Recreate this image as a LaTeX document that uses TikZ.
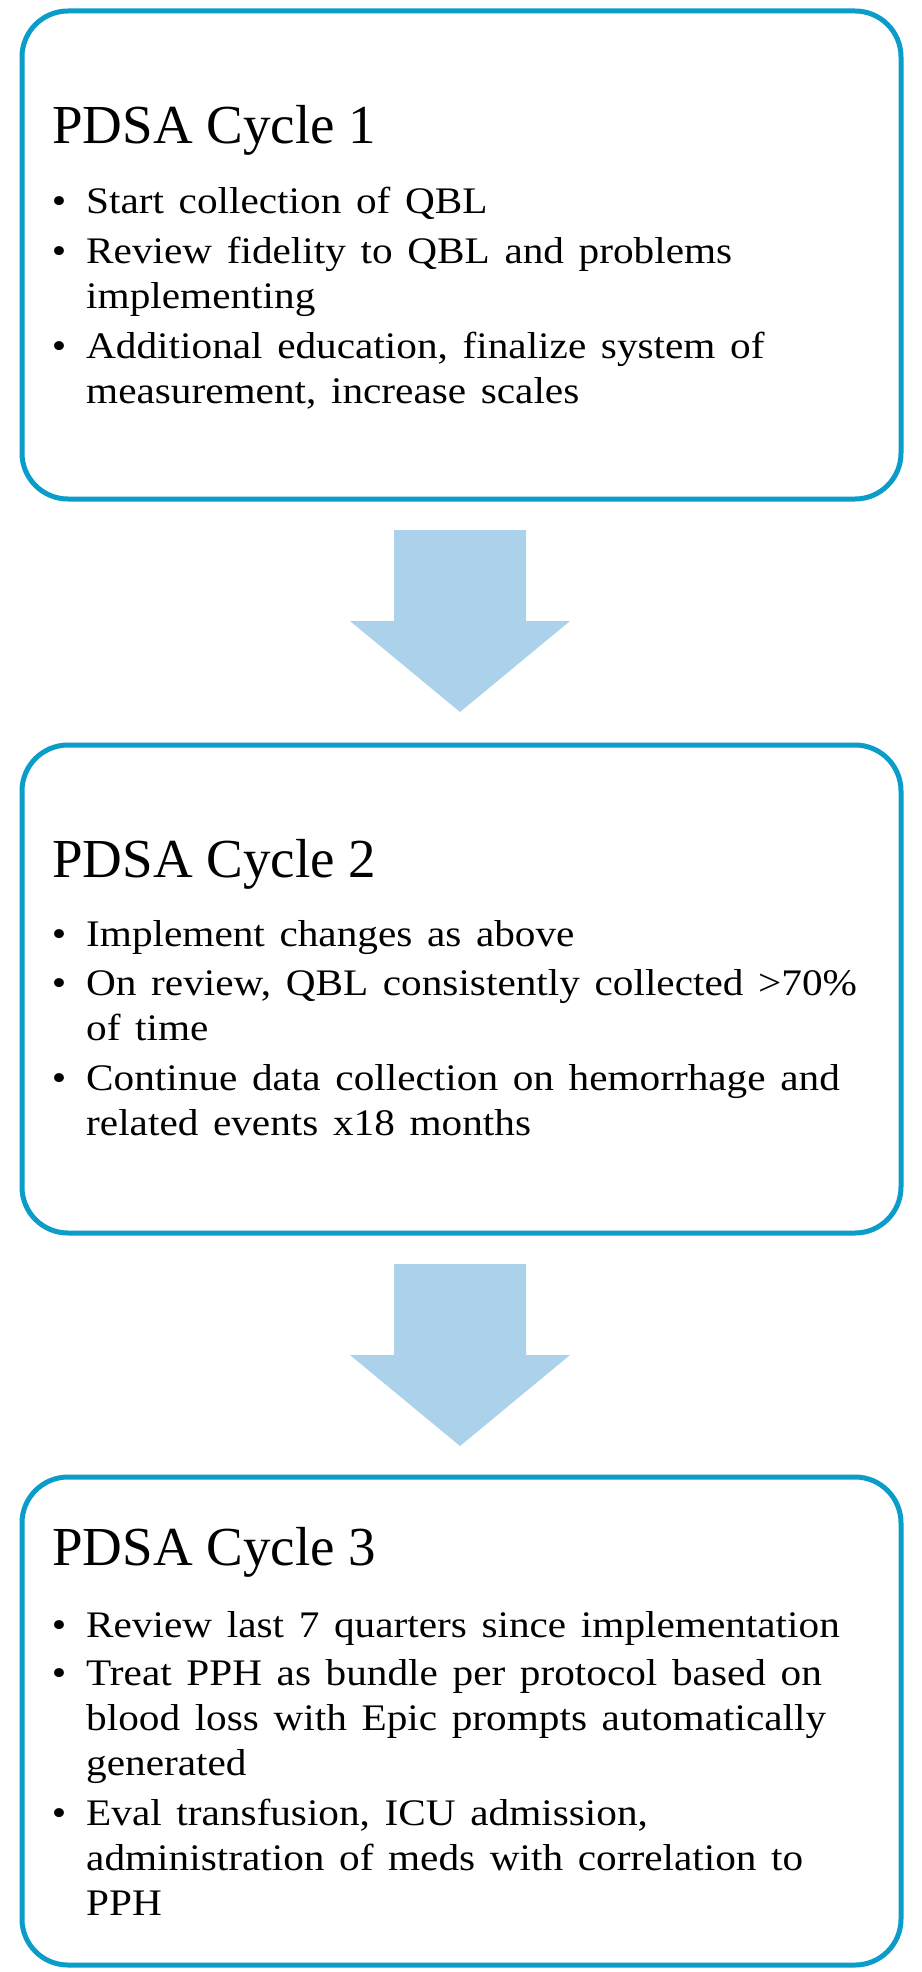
\documentclass[tikz,border=0pt]{standalone}
\usepackage{fontspec}
\usetikzlibrary{calc}
\newfontfamily\bodyfont[FakeStretch=1.1,WordSpace={1.42,0,0}]{Liberation Serif}
\newfontfamily\headfont{Liberation Serif}
\definecolor{boxblue}{RGB}{11,157,202}
\definecolor{arrowblue}{RGB}{171,210,234}
\begin{document}
\begin{tikzpicture}[x=1pt,y=-1pt,
  cyclebox/.style={draw=boxblue, line width=5pt, rounded corners=46pt,
    minimum width=879pt, minimum height=488pt, anchor=north west,
    inner sep=0pt, outer sep=0pt},
  heading/.style={anchor=base west, inner sep=0pt, font=\headfont\fontsize{55}{60}\selectfont},
  bul/.style={anchor=base, inner sep=0pt, font=\bodyfont\fontsize{37.5}{45.3}\selectfont},
  itemtext/.style={anchor=base west, inner sep=0pt, font=\bodyfont\fontsize{37.5}{45.3}\selectfont},
  blockarrow/.style={fill=arrowblue, draw=none}]
\useasboundingbox (0,0) rectangle (921,1972);
\fill[white] (0,0) rectangle (921,1972);

% boxes
\node[cyclebox] (c1) at (22,11) {};
\node[cyclebox] (c2) at (22,745) {};
\node[cyclebox] (c3) at (22,1477) {};

% block arrows
\foreach \a/\b in {c1/c2, c2/c3}{
  \coordinate (top) at ([shift={(-1.5,31)}]\a.south);
  \fill[blockarrow] ([shift={(-66,0)}]top) -- ([shift={(66,0)}]top)
    -- ([shift={(66,91)}]top) -- ([shift={(110,91)}]top)
    -- ([shift={(0,182)}]top) -- ([shift={(-110,91)}]top)
    -- ([shift={(-66,91)}]top) -- cycle;
}

% Box 1
\node[heading] (t1) at (52,144) {PDSA Cycle 1};
\node[bul] (b11) at (59,213) {•};
\node[itemtext] (i11) at (86,213) {\parbox[t]{800pt}{\raggedright Start collection of QBL}};
\node[bul] (b12) at (59,263) {•};
\node[itemtext] (i12) at (86,263) {\parbox[t]{800pt}{\raggedright Review fidelity to QBL and problems\\implementing}};
\node[bul] (b13) at (59,358) {•};
\node[itemtext] (i13) at (86,358) {\parbox[t]{800pt}{\raggedright Additional education, finalize system of\\measurement, increase scales}};

% Box 2
\node[heading] (t2) at (52,877) {PDSA Cycle 2};
\node[bul] (b21) at (59,946) {•};
\node[itemtext] (i21) at (86,946) {\parbox[t]{800pt}{\raggedright Implement changes as above}};
\node[bul] (b22) at (59,995) {•};
\node[itemtext] (i22) at (86,995) {\parbox[t]{800pt}{\raggedright On review, QBL consistently collected >70\%\\of time}};
\node[bul] (b23) at (59,1090) {•};
\node[itemtext] (i23) at (86,1090) {\parbox[t]{800pt}{\raggedright Continue data collection on hemorrhage and\\related events x18 months}};

% Box 3
\node[heading] (t3) at (52,1565) {PDSA Cycle 3};
\node[bul] (b31) at (59,1637) {•};
\node[itemtext] (i31) at (86,1637) {\parbox[t]{800pt}{\raggedright Review last 7 quarters since implementation}};
\node[bul] (b32) at (59,1685) {•};
\node[itemtext] (i32) at (86,1685) {\parbox[t]{800pt}{\raggedright Treat PPH as bundle per protocol based on\\blood loss with Epic prompts automatically\\generated}};
\node[bul] (b33) at (59,1825) {•};
\node[itemtext] (i33) at (86,1825) {\parbox[t]{800pt}{\raggedright Eval transfusion, ICU admission,\\administration of meds with correlation to\\PPH}};
\end{tikzpicture}
\end{document}
